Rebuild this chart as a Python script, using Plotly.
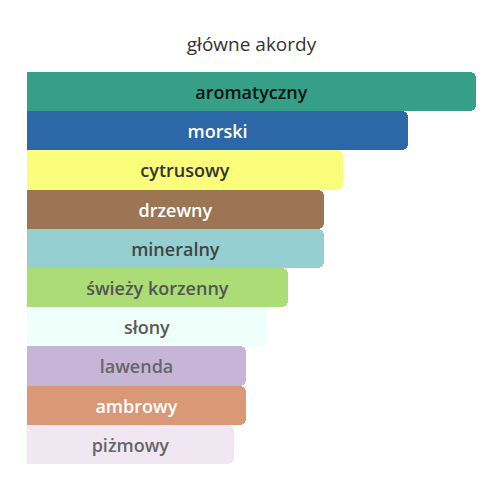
import plotly.graph_objects as go

# glowne akordy (percent of strongest accord)
labels = ["aromatyczny", "morski", "cytrusowy", "drzewny", "mineralny",
          "świeży korzenny", "słony", "lawenda", "ambrowy", "piżmowy"]
values = [100, 84.9, 70.4, 66.1, 66.1, 58.1, 53.5, 48.8, 48.8, 46.1]
bar_colors = ["#35a087", "#2c67a8", "#fbfe7a", "#9c7555", "#96cfd2",
              "#abdc75", "#effff9", "#c7b5d8", "#d99977", "#f1e7f3"]
text_colors = ["#111111", "#ffffff", "#333333", "#ffffff", "#444444",
               "#555555", "#5a5a5a", "#666666", "#ffffff", "#666666"]

fig = go.Figure(go.Bar(
    x=values,
    y=labels,
    orientation="h",
    marker=dict(color=bar_colors, line=dict(width=0)),
    text=labels,
    textposition="inside",
    insidetextanchor="middle",
    textangle=0,
    constraintext="none",
    textfont=dict(family="Open Sans", size=18, color=text_colors, weight=600),
    hoverinfo="skip",
))

# page body adds an 8px offset, so margins are shifted to compensate
fig.update_layout(
    title=dict(text="główne akordy", x=0.5, xref="paper", y=0.928, yanchor="middle",
               font=dict(family="Open Sans", size=19, color="#333333", weight=500)),
    width=500, height=500,
    margin=dict(l=19, r=32, t=64, b=44),
    bargap=0,
    barcornerradius=6,
    plot_bgcolor="white",
    paper_bgcolor="white",
    showlegend=False,
    xaxis=dict(range=[0, 100], visible=False, fixedrange=True),
    yaxis=dict(autorange="reversed", visible=False, fixedrange=True),
)

fig.write_html("out.html")
